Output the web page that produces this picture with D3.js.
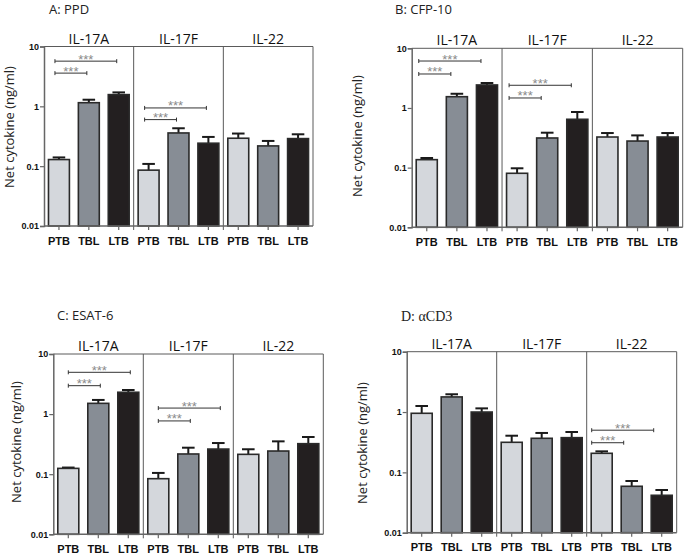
<!DOCTYPE html>
<html><head><meta charset="utf-8">
<script src="https://cdn.jsdelivr.net/npm/d3@7"></script>
<style>html,body{margin:0;padding:0;background:#fff;}</style>
</head><body>
<svg id="chart" width="686" height="555"></svg>
<script>
// ---------- data ----------
const groups = ["IL-17A", "IL-17F", "IL-22"];
const cohorts = ["PTB", "TBL", "LTB"];
const yTicks = [0.01, 0.1, 1, 10];
const yTickLabels = ["0.01", "0.1", "1", "10"];
const panelTitles = ["A: PPD", "B: CFP-10", "C: ESAT-6", "D: \u03B1CD3"];
const yTitle = "Net cytokine (ng/ml)";

// mean values per group (rows: IL-17A, IL-17F, IL-22; cols: PTB, TBL, LTB)
const ppdMean   = [[0.129, 1.15, 1.57], [0.0858, 0.359, 0.242], [0.293, 0.218, 0.289]];
const ppdUpper  = [[0.140, 1.29, 1.71], [0.109, 0.430, 0.308], [0.351, 0.264, 0.341]];
const cfpMean   = [[0.136, 1.545, 2.43], [0.0804, 0.314, 0.646], [0.326, 0.279, 0.326]];
const cfpUpper  = [[0.145, 1.73, 2.62], [0.0975, 0.385, 0.855], [0.380, 0.347, 0.380]];
const esatMean  = [[0.125, 1.51, 2.31], [0.0842, 0.217, 0.262], [0.214, 0.243, 0.322]];
const esatUpper = [[0.129, 1.72, 2.52], [0.105, 0.276, 0.330], [0.260, 0.352, 0.416]];
const cd3Mean   = [[0.953, 1.78, 1.00], [0.315, 0.367, 0.376], [0.207, 0.0588, 0.0417]];
const cd3Upper  = [[1.26, 1.97, 1.15], [0.405, 0.450, 0.467], [0.223, 0.072, 0.051]];

// significance brackets: group index, target cohort index (from PTB), level value
const ppdSig  = [[0, 1, 3.59], [0, 2, 5.69], [1, 1, 0.60], [1, 2, 0.94]];
const cfpSig  = [[0, 1, 3.71], [0, 2, 6.12], [1, 1, 1.47], [1, 2, 2.40]];
const esatSig = [[0, 1, 2.97], [0, 2, 4.96], [1, 1, 0.77], [1, 2, 1.26]];
const cd3Sig  = [[2, 1, 0.31], [2, 2, 0.50]];
const sigLabel = "***";

const colors = ["#d4d7dc", "#878d95", "#231f20"];

// ---------- layout ----------
const panels = [
  {mean: ppdMean,  upper: ppdUpper,  sig: ppdSig,  x: 44,    y: 46.5,  w: 269, h: 179.5, tx: 49,  ty: 13.5, ytx: 9,     yty: 127, shift: 0},
  {mean: cfpMean,  upper: cfpUpper,  sig: cfpSig,  x: 411.7, y: 48.3,  w: 271, h: 179,   tx: 395, ty: 13.5, ytx: 357,   yty: 136, shift: -4},
  {mean: esatMean, upper: esatUpper, sig: esatSig, x: 53.3,  y: 354,   w: 270, h: 180.3, tx: 57,  ty: 320,  ytx: 16,    yty: 442, shift: 4},
  {mean: cd3Mean,  upper: cd3Upper,  sig: cd3Sig,  x: 406.7, y: 351.7, w: 270, h: 181,   tx: 401, ty: 321,  ytx: 362.5, yty: 443, shift: -6, serif: true}
];

const svg = d3.select("#chart");
const sans = "'Open Sans', 'Noto Sans', sans-serif";
const arial = "'Liberation Sans', Arial, sans-serif";

panels.forEach((p, pi) => {
  const g = svg.append("g");
  const top = p.y, bottom = p.y + p.h, left = p.x, right = p.x + p.w;
  const y = d3.scaleLog().domain([0.01, 10]).range([bottom, top]);
  const x0 = d3.scaleBand().domain(groups).range([left, right]).padding(0);
  const x1 = d3.scaleBand().domain(cohorts).range([0, x0.bandwidth()]).paddingInner(0.3).paddingOuter(0.15);
  const bw = x1.bandwidth();

  // panel title
  g.append("text").attr("x", p.tx).attr("y", p.ty)
    .attr("font-family", p.serif ? "'Liberation Serif', 'DejaVu Serif', serif" : sans)
    .attr("font-size", p.serif ? 14 : 13).attr("fill", "#222")
    .text(panelTitles[pi]);

  // group labels
  groups.forEach(gr => {
    g.append("text").attr("x", x0(gr) + x0.bandwidth() / 2).attr("y", top - 3)
      .attr("text-anchor", "middle").attr("font-family", sans).attr("font-size", 14).attr("fill", "#111")
      .text(gr);
  });

  // bars + error bars
  groups.forEach((gr, gi) => {
    cohorts.forEach((c, ci) => {
      const v = p.mean[gi][ci], u = p.upper[gi][ci];
      const bx = x0(gr) + x1(c);
      const cx = bx + bw / 2;
      // error bar
      g.append("line").attr("x1", cx).attr("x2", cx).attr("y1", y(v)).attr("y2", y(u))
        .attr("stroke", "#1a1a1a").attr("stroke-width", 2);
      g.append("line").attr("x1", cx - bw * 0.3).attr("x2", cx + bw * 0.3).attr("y1", y(u)).attr("y2", y(u))
        .attr("stroke", "#1a1a1a").attr("stroke-width", 2);
      g.append("rect").attr("x", bx).attr("y", y(v)).attr("width", bw).attr("height", bottom - y(v))
        .attr("fill", colors[ci]).attr("stroke", "#2a2a2a").attr("stroke-width", 1.6);
    });
  });

  // frame
  const frame = "#5a5a5a";
  g.append("line").attr("x1", left).attr("x2", right).attr("y1", top).attr("y2", top).attr("stroke", frame).attr("stroke-width", 1);
  g.append("line").attr("x1", right).attr("x2", right).attr("y1", top).attr("y2", bottom).attr("stroke", frame).attr("stroke-width", 1);
  groups.slice(1).forEach(gr => {
    g.append("line").attr("x1", x0(gr)).attr("x2", x0(gr)).attr("y1", top).attr("y2", bottom + 4)
      .attr("stroke", frame).attr("stroke-width", 1);
  });

  // y axis
  const yAxis = d3.axisLeft(y).tickValues(yTicks).tickFormat((d, i) => yTickLabels[i]).tickSize(4).tickPadding(1);
  const ya = g.append("g").attr("transform", `translate(${left},0)`).call(yAxis);
  ya.select(".domain").attr("stroke", "#666").attr("stroke-width", 1.5);
  ya.selectAll(".tick line").attr("stroke", "#666").attr("stroke-width", 1.2);
  ya.selectAll(".tick text").attr("font-family", arial).attr("font-weight", "bold").attr("font-size", 9).attr("fill", "#111");

  // x axis (bottom line + ticks + labels)
  g.append("line").attr("x1", left).attr("x2", right).attr("y1", bottom).attr("y2", bottom)
    .attr("stroke", "#666").attr("stroke-width", 1.5);
  groups.forEach(gr => {
    cohorts.forEach(c => {
      const cx = x0(gr) + x1(c) + bw / 2;
      g.append("line").attr("x1", cx).attr("x2", cx).attr("y1", bottom).attr("y2", bottom + 4)
        .attr("stroke", "#666").attr("stroke-width", 1.2);
      g.append("text").attr("x", cx).attr("y", bottom + 18.5).attr("text-anchor", "middle")
        .attr("font-family", arial).attr("font-weight", "bold").attr("font-size", 11).attr("fill", "#111")
        .text(c);
    });
  });

  // y title
  g.append("text").attr("transform", `translate(${p.ytx + 4.5},${p.yty}) rotate(-90)`)
    .attr("text-anchor", "middle").attr("font-family", sans).attr("font-size", 13).attr("fill", "#222")
    .text(yTitle);

  // significance brackets
  p.sig.forEach(([gi, ti, lvl]) => {
    const gr = groups[gi];
    const xa = x0(gr) + x1(cohorts[0]) + bw / 2 - 4 + p.shift;
    const xb = x0(gr) + x1(cohorts[ti]) + bw / 2 - 2 + p.shift;
    const yy = y(lvl);
    g.append("line").attr("x1", xa).attr("x2", xb).attr("y1", yy).attr("y2", yy).attr("stroke", "#333").attr("stroke-width", 1);
    [xa, xb].forEach(xx => g.append("line").attr("x1", xx).attr("x2", xx).attr("y1", yy - 2).attr("y2", yy + 2)
      .attr("stroke", "#333").attr("stroke-width", 1));
    g.append("text").attr("x", (xa + xb) / 2).attr("y", yy + 2.5).attr("text-anchor", "middle")
      .attr("font-family", arial).attr("font-size", 13).attr("fill", "#8a8a8a").text(sigLabel);
  });
});
</script>
</body></html>
